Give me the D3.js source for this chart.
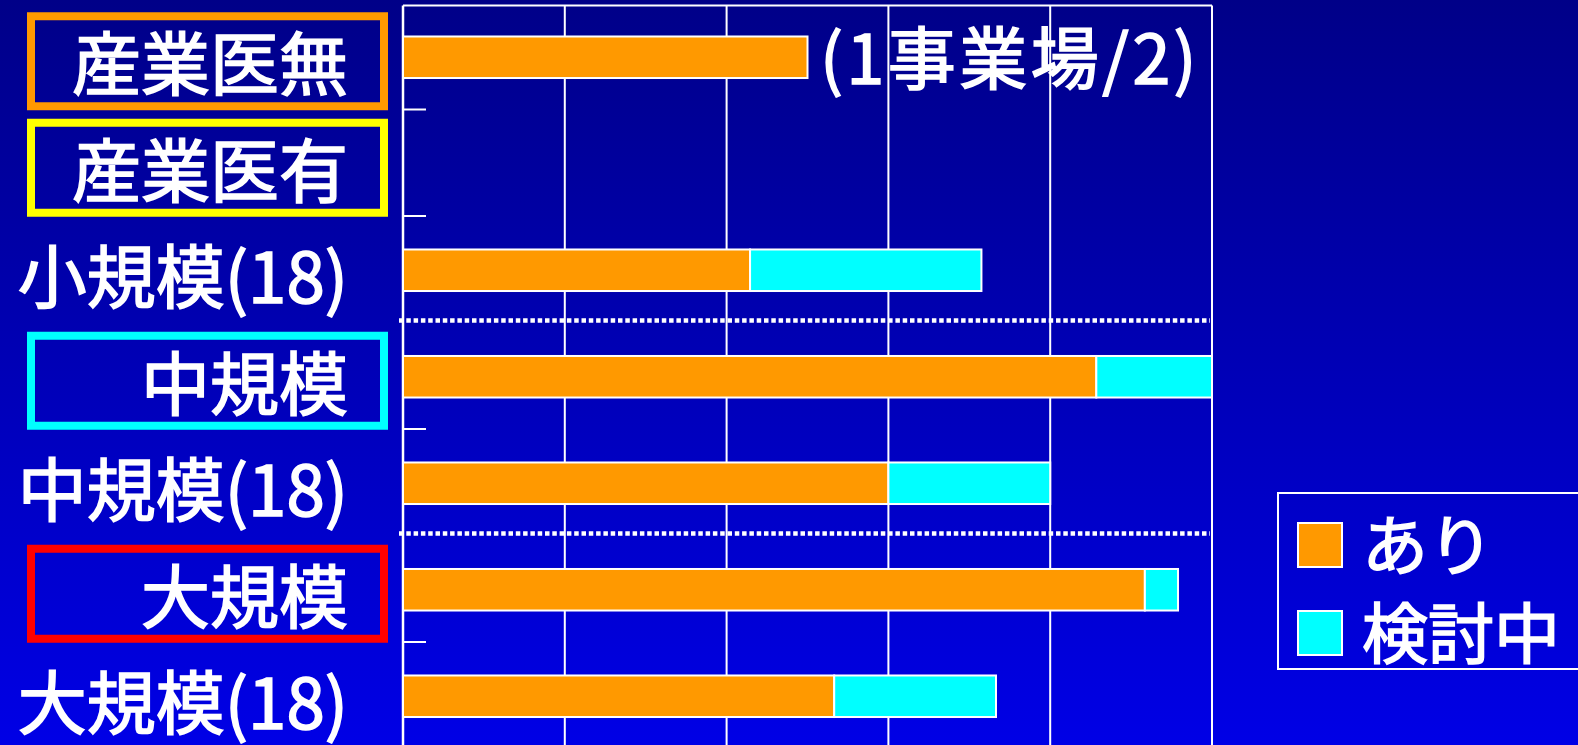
<!DOCTYPE html>
<html>
<head>
<meta charset="utf-8">
<script src="https://cdn.jsdelivr.net/npm/d3@7"></script>
<style>
  html, body { margin: 0; padding: 0; background: #000088; overflow: hidden; }
  svg { display: block; }
  text { font-family: "Noto Sans CJK JP", "Noto Sans", sans-serif; fill: #ffffff;
         stroke: #ffffff; stroke-width: 1.6px; paint-order: stroke; }
</style>
</head>
<body>
<svg id="chart" width="1578" height="745"></svg>
<script>
// Row categories (top to bottom)
const categories = ["産業医無", "産業医有", "小規模(18)", "中規模", "中規模(18)", "大規模", "大規模(18)"];
// Percentages per row: "あり" and "検討中" (null = no bar)
const ariValues = [50, null, 42.9, 85.7, 60, 91.7, 53.3];
const kentouValues = [0, null, 28.6, 14.3, 20, 4.1, 20];
// Series names and colours
const seriesNames = ["あり", "検討中"];
const seriesColors = ["#FF9900", "#00FFFF"];
// Framed header rows and their frame colours
const framedRows = ["産業医無", "産業医有", "中規模", "大規模"];
const frameColors = ["#FF9900", "#FFFF00", "#00FFFF", "#FF0000"];
// Rows after which a dotted separator is drawn
const separatorsAfter = ["小規模(18)", "中規模(18)"];
// Gridline values on the x axis
const gridTicks = [20, 40, 60, 80, 100];
const note = "(1事業場/2)";

const svg = d3.select("#chart");
const W = 1578, H = 745;

// Background gradient
const defs = svg.append("defs");
const grad = defs.append("linearGradient").attr("id", "bg")
  .attr("x1", 0).attr("y1", 0).attr("x2", 0).attr("y2", 1);
grad.append("stop").attr("offset", "0%").attr("stop-color", "#000088");
grad.append("stop").attr("offset", "100%").attr("stop-color", "#0000E6");
svg.append("rect").attr("width", W).attr("height", H).attr("fill", "url(#bg)");

const plotLeft = 403, plotRight = 1212, plotTop = 5.5;
const x = d3.scaleLinear().domain([0, 100]).range([plotLeft, plotRight]);
const y = d3.scaleBand().domain(categories).range([4, 749.5])
  .paddingInner(0.61).paddingOuter(0.305);
const step = y.step();
const center = c => y(c) + y.bandwidth() / 2;
const boundaryAfter = c => y(c) + y.bandwidth() + step * 0.61 / 2;

// Gridlines
svg.append("g").selectAll("line").data(gridTicks).join("line")
  .attr("x1", d => x(d)).attr("x2", d => x(d))
  .attr("y1", plotTop).attr("y2", H + 5)
  .attr("stroke", "#ffffff").attr("stroke-width", 2);

// Top frame line
svg.append("line").attr("x1", plotLeft).attr("x2", plotRight)
  .attr("y1", plotTop).attr("y2", plotTop)
  .attr("stroke", "#ffffff").attr("stroke-width", 2);

// Left axis with inward ticks at row boundaries
const tickRows = categories.slice(0, -1).filter(c => !separatorsAfter.includes(c));
svg.append("line").attr("x1", plotLeft).attr("x2", plotLeft)
  .attr("y1", plotTop).attr("y2", H + 5)
  .attr("stroke", "#ffffff").attr("stroke-width", 2.5);
svg.append("g").selectAll("line").data(tickRows).join("line")
  .attr("x1", plotLeft).attr("x2", plotLeft + 23)
  .attr("y1", d => boundaryAfter(d) - 1).attr("y2", d => boundaryAfter(d) - 1)
  .attr("stroke", "#ffffff").attr("stroke-width", 2);

// Stacked bars
const rows = categories.map((c, i) => ({ cat: c, vals: [ariValues[i], kentouValues[i]] }));
const segs = [];
rows.forEach(r => {
  if (r.vals[0] == null) return;
  let acc = 0;
  r.vals.forEach((v, k) => {
    if (v > 0) segs.push({ cat: r.cat, x0: acc, x1: acc + v, k });
    acc += v;
  });
});
svg.append("g").selectAll("rect").data(segs).join("rect")
  .attr("x", d => x(d.x0)).attr("width", d => x(d.x1) - x(d.x0))
  .attr("y", d => y(d.cat)).attr("height", y.bandwidth())
  .attr("fill", d => seriesColors[d.k])
  .attr("stroke", "#ffffff").attr("stroke-width", 2);

// Dotted separators
svg.append("g").selectAll("line").data(separatorsAfter).join("line")
  .attr("x1", plotLeft - 4).attr("x2", plotRight - 2)
  .attr("y1", d => boundaryAfter(d) - 3).attr("y2", d => boundaryAfter(d) - 3)
  .attr("stroke", "#ffffff").attr("stroke-width", 4.5)
  .attr("stroke-dasharray", "4.5,2.8");

// Note text next to the first bar
svg.append("text").attr("x", 820).attr("y", center(categories[0]) + 27)
  .attr("font-size", 68).attr("letter-spacing", 3.5)
  .text(note);

// Frames around header rows
svg.append("g").selectAll("rect").data(framedRows).join("rect")
  .attr("x", 31).attr("width", 353)
  .attr("y", d => center(d) + 4 - 45).attr("height", 90)
  .attr("fill", "none")
  .attr("stroke", (d, i) => frameColors[i]).attr("stroke-width", 8);

// Row labels
svg.append("g").selectAll("text").data(categories).join("text")
  .attr("x", 348).attr("y", d => center(d) + 33)
  .attr("text-anchor", "end").attr("font-size", 69)
  .text(d => d);

// Legend
const lg = svg.append("g");
lg.append("rect").attr("x", 1278).attr("y", 493).attr("width", 330).attr("height", 176)
  .attr("fill", "none").attr("stroke", "#ffffff").attr("stroke-width", 2);
const legendY = [545, 633];
seriesNames.forEach((s, i) => {
  lg.append("rect").attr("x", 1298).attr("y", legendY[i] - 22)
    .attr("width", 44).attr("height", 44)
    .attr("fill", seriesColors[i]).attr("stroke", "#ffffff").attr("stroke-width", 2);
  lg.append("text").attr("x", 1362).attr("y", legendY[i] + 25)
    .attr("font-size", 66).text(s);
});
</script>
</body>
</html>
